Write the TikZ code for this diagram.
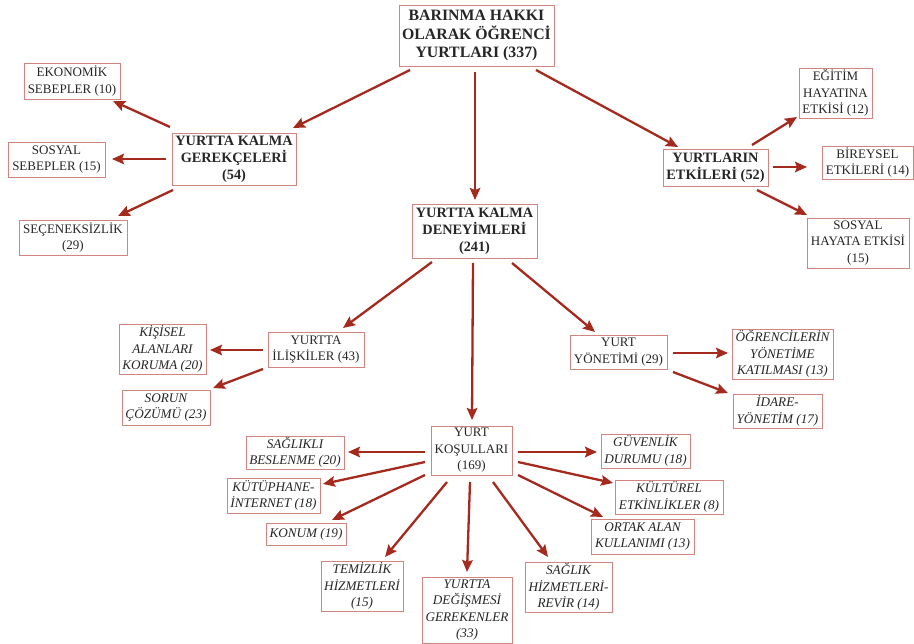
\documentclass[tikz,border=0pt]{standalone}
\usepackage{fontspec}
\setmainfont{Liberation Serif}
\usetikzlibrary{arrows.meta,calc}
\definecolor{boxred}{RGB}{210,132,126}
\definecolor{arrred}{RGB}{165,42,30}
\tikzset{
  base/.style={draw=boxred, line width=0.9pt, fill=white, align=center, inner sep=1pt, text=black!85},
  nbox/.style={base, font=\fontsize{13}{16.5}\selectfont},
  ibox/.style={base, font=\fontsize{13.2}{16.5}\selectfont\itshape},
  bbox/.style={base, font=\fontsize{14.3}{17}\selectfont\bfseries},
  tbox/.style={base, font=\fontsize{15.8}{18.5}\selectfont\bfseries},
  arr/.style={draw=arrred, line width=2.3pt, -{Stealth[length=12pt,width=10.5pt,inset=2pt]}},
}
\begin{document}
\begin{tikzpicture}[x=1pt,y=-1pt]
\useasboundingbox (0,0) rectangle (914,644);
% nodes
\node[tbox, minimum width=155, minimum height=61] (top) at (476.5,35.5) {BARINMA HAKKI\\OLARAK ÖĞRENCİ\\YURTLARI (337)};
\node[bbox, minimum width=124, minimum height=52] (ykg) at (234,159) {YURTTA KALMA\\GEREKÇELERİ\\(54)};
\node[bbox, minimum width=125, minimum height=54] (ykd) at (474.5,231) {YURTTA KALMA\\DENEYİMLERİ\\(241)};
\node[bbox, minimum width=105, minimum height=37] (ye) at (715.5,167.5) {YURTLARIN\\ETKİLERİ (52)};
\node[nbox, minimum width=96, minimum height=36] (ekon) at (72,81) {EKONOMİK\\SEBEPLER (10)};
\node[nbox, minimum width=97, minimum height=35] (sosyal) at (56.5,159.5) {SOSYAL\\SEBEPLER (15)};
\node[nbox, minimum width=108, minimum height=35] (secen) at (73,237.5) {SEÇENEKSİZLİK\\(29)};
\node[nbox, minimum width=73, minimum height=50] (egitim) at (835.5,93) {EĞİTİM\\HAYATINA\\ETKİSİ (12)};
\node[nbox, minimum width=91, minimum height=33] (bireysel) at (867.5,162.5) {BİREYSEL\\ETKİLERİ (14)};
\node[nbox, minimum width=102, minimum height=50] (sosyalhay) at (858,243) {SOSYAL\\HAYATA ETKİSİ\\(15)};
\node[nbox, minimum width=96, minimum height=35] (iliski) at (316,349.5) {YURTTA\\İLİŞKİLER (43)};
\node[ibox, minimum width=87, minimum height=50] (kisisel) at (162.5,349) {KİŞİSEL\\ALANLARI\\KORUMA (20)};
\node[ibox, minimum width=88, minimum height=35] (sorun) at (166,407.5) {SORUN\\ÇÖZÜMÜ (23)};
\node[nbox, minimum width=97, minimum height=34] (yonetim) at (618.5,352) {YURT\\YÖNETİMİ (29)};
\node[ibox, minimum width=101, minimum height=50] (ogrenci) at (782.5,354) {ÖĞRENCİLERİN\\YÖNETİME\\KATILMASI (13)};
\node[ibox, minimum width=89, minimum height=34] (idare) at (777.5,411) {İDARE-\\YÖNETİM (17)};
\node[nbox, minimum width=81, minimum height=49] (yk) at (471.5,450.5) {YURT\\KOŞULLARI\\(169)};
\node[ibox, minimum width=98, minimum height=33] (saglikli) at (295,452.5) {SAĞLIKLI\\BESLENME (20)};
\node[ibox, minimum width=93, minimum height=35] (kutup) at (273.5,495.5) {KÜTÜPHANE-\\İNTERNET (18)};
\node[ibox, minimum width=80, minimum height=22] (konum) at (306,534) {KONUM (19)};
\node[ibox, minimum width=82, minimum height=50] (temiz) at (362,586) {TEMİZLİK\\HİZMETLERİ\\(15)};
\node[ibox, minimum width=90, minimum height=66] (yurttadeg) at (467,610) {YURTTA\\DEĞİŞMESİ\\GEREKENLER\\(33)};
\node[ibox, minimum width=87, minimum height=50] (saglik) at (568.5,587) {SAĞLIK\\HİZMETLERİ-\\REVİR (14)};
\node[ibox, minimum width=89, minimum height=34] (guven) at (645.5,451) {GÜVENLİK\\DURUMU (18)};
\node[ibox, minimum width=108, minimum height=34] (kultur) at (669,497) {KÜLTÜREL\\ETKİNLİKLER (8)};
\node[ibox, minimum width=103, minimum height=35] (ortak) at (642.5,536.5) {ORTAK ALAN\\KULLANIMI (13)};
% arrows
\draw[arr] ($(top)+(-66.5,34.5)$) -- ($(ykg)+(59,-31)$);
\draw[arr] ($(top)+(-1.5,36.5)$) -- ($(ykd)+(0.5,-31)$);
\draw[arr] ($(top)+(59.5,34.5)$) -- ($(ye)+(-37.5,-20.5)$);
\draw[arr] ($(ykg)+(-64,-32)$) -- ($(ekon)+(41,20)$);
\draw[arr] ($(ykg)+(-68,0)$) -- ($(sosyal)+(55.5,-0.5)$);
\draw[arr] ($(ykg)+(-61,31)$) -- ($(secen)+(45,-21.5)$);
\draw[arr] ($(ye)+(36.5,-22.5)$) -- ($(egitim)+(-38.5,24)$);
\draw[arr] ($(ye)+(57.5,-0.5)$) -- ($(bireysel)+(-60.5,4.5)$);
\draw[arr] ($(ye)+(41.5,22.5)$) -- ($(sosyalhay)+(-51,-28)$);
\draw[arr] ($(ykd)+(-42.5,31)$) -- ($(iliski)+(27,-21.5)$);
\draw[arr] ($(ykd)+(-1.5,32)$) -- ($(yk)+(0.5,-30.5)$);
\draw[arr] ($(ykd)+(37.5,32)$) -- ($(yonetim)+(-23.5,-20)$);
\draw[arr] ($(iliski)+(-53,0.5)$) -- ($(kisisel)+(47.5,1)$);
\draw[arr] ($(iliski)+(-53,19.5)$) -- ($(sorun)+(47,-19.5)$);
\draw[arr] ($(yonetim)+(54.5,1)$) -- ($(ogrenci)+(-54.5,-1)$);
\draw[arr] ($(yonetim)+(54.5,20)$) -- ($(idare)+(-49.5,-18)$);
\draw[arr] ($(yk)+(-46.5,1.5)$) -- ($(saglikli)+(53,-0.5)$);
\draw[arr] ($(yk)+(-46.5,11.5)$) -- ($(kutup)+(49.5,-11.5)$);
\draw[arr] ($(yk)+(-46.5,24.5)$) -- ($(konum)+(26,-14)$);
\draw[arr] ($(yk)+(-24.5,31.5)$) -- ($(temiz)+(23,-29)$);
\draw[arr] ($(yk)+(-1.5,31.5)$) -- ($(yurttadeg)+(0,-38)$);
\draw[arr] ($(yk)+(21.5,31.5)$) -- ($(saglik)+(-20.5,-30)$);
\draw[arr] ($(yk)+(46.5,1.5)$) -- ($(guven)+(-48.5,1)$);
\draw[arr] ($(yk)+(46.5,11.5)$) -- ($(kultur)+(-56,-14)$);
\draw[arr] ($(yk)+(46.5,24.5)$) -- ($(ortak)+(-39.5,-19.5)$);
\end{tikzpicture}
\end{document}
